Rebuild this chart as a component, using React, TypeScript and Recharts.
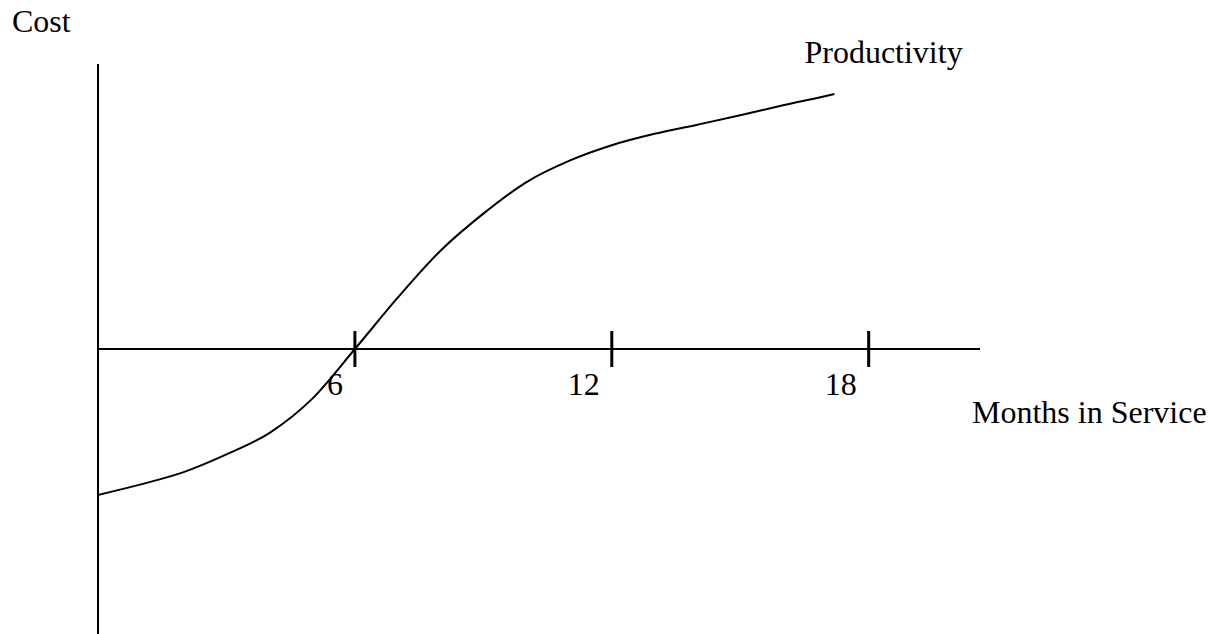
import React from 'react'
import {
  LineChart, Line, XAxis, YAxis, ReferenceLine, ReferenceDot, Label, LabelList
} from 'recharts'

// months in service and the productivity/cost curve (arbitrary units, 0 = break even)
const months = [0, 1, 2, 3, 4, 5, 6, 7, 8, 9, 10, 11, 12, 13, 14, 15, 16, 17, 17.2]
const productivity = [
  -5.12, -4.75, -4.32, -3.7, -2.95, -1.75, 0, 1.8, 3.45, 4.75,
  5.85, 6.6, 7.15, 7.55, 7.87, 8.2, 8.55, 8.88, 8.95
]
const tickMonths = [6, 12, 18]
const tickLabels = ['6', '12', '18']

const seriesName = 'Productivity'
const yTitle = 'Cost'
const xTitle = 'Months in Service'

const FONT = '"Liberation Serif", "Times New Roman", serif'

const data = months.map((m, i) => ({ month: m, value: productivity[i] }))

function TickMark(label: string) {
  return (props: any) => {
    const { cx, cy } = props
    return (
      <g>
        <line x1={cx} x2={cx} y1={cy - 18} y2={cy + 18} stroke="#000" strokeWidth={3} />
        <text x={cx - 12} y={cy + 46} textAnchor="end" fontFamily={FONT} fontSize={32} fill="#000">
          {label}
        </text>
      </g>
    )
  }
}

function CostLabel(props: any) {
  const { viewBox } = props
  return (
    <text x={viewBox.x + viewBox.width - 86} y={viewBox.y - 32} fontFamily={FONT} fontSize={32} fill="#000">
      {yTitle}
    </text>
  )
}

function MonthsLabel(props: any) {
  const { viewBox } = props
  return (
    <text x={viewBox.x + viewBox.width - 8} y={viewBox.y + 74} fontFamily={FONT} fontSize={32} fill="#000">
      {xTitle}
    </text>
  )
}

function EndLabel(props: any) {
  const { x, y, index } = props
  if (index !== data.length - 1) return null
  return (
    <text x={x - 30} y={y - 31} fontFamily={FONT} fontSize={32} fill="#000">
      {seriesName}
    </text>
  )
}

export default function App() {
  return (
    <div style={{ position: 'absolute', left: 0, top: 0, width: 1220, height: 634, background: '#fff' }}>
      <LineChart
        width={1220}
        height={634}
        data={data}
        margin={{ top: 64, right: 240, bottom: 0, left: 97 }}
      >
        <XAxis dataKey="month" type="number" domain={[0, 20.6]} allowDataOverflow hide />
        <YAxis
          type="number"
          domain={[-10, 10]}
          allowDataOverflow
          width={1}
          tick={false}
          tickLine={false}
          axisLine={{ stroke: '#000', strokeWidth: 2 }}
        >
          <Label content={CostLabel} />
        </YAxis>
        <ReferenceLine y={0} stroke="#000" strokeWidth={2} label={<MonthsLabel />} />
        {tickMonths.map((t, i) => (
          <ReferenceDot key={t} x={t} y={0} r={0} shape={TickMark(tickLabels[i])} />
        ))}
        <Line
          type="monotone"
          dataKey="value"
          name={seriesName}
          stroke="#000"
          strokeWidth={2}
          dot={false}
          isAnimationActive={false}
        >
          <LabelList dataKey="value" content={<EndLabel />} />
        </Line>
      </LineChart>
    </div>
  )
}
